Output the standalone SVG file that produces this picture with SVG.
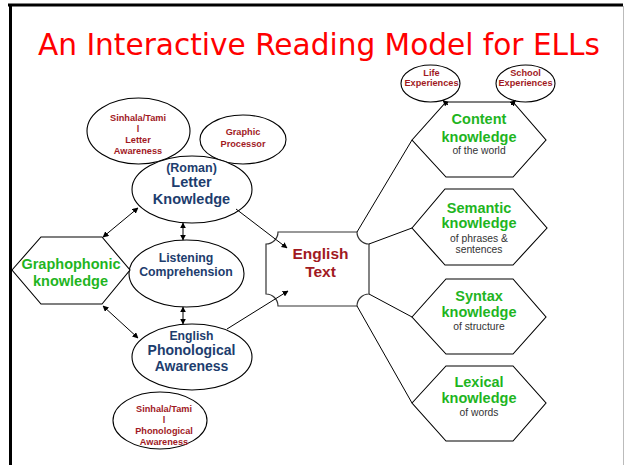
<svg xmlns="http://www.w3.org/2000/svg" width="626" height="465" viewBox="0 0 626 465">
<style>
.sh{fill:#fff;stroke:#000;stroke-width:1.1}
.ln{fill:none;stroke:#000;stroke-width:1}
.t{font-family:"Liberation Sans",Arial,sans-serif;font-weight:bold;text-anchor:middle}
.dr{fill:#a11a1f;font-size:9.2px}
.bl{fill:#1d3d6e}
.gr{fill:#1fb51f;font-size:14.5px}
.sm{font-family:"Liberation Sans",Arial,sans-serif;text-anchor:middle;fill:#333;font-size:10.3px}
</style>
<defs>
<marker id="ah" viewBox="0 0 10 10" refX="9" refY="5" markerWidth="6" markerHeight="6" orient="auto-start-reverse" markerUnits="userSpaceOnUse">
<path d="M0,0 L10,5 L0,10 Z" fill="#000"/>
</marker>
</defs>
<rect x="0" y="0" width="626" height="465" fill="#fff"/>
<line x1="8" y1="5" x2="623" y2="5" stroke="#000" stroke-width="3"/>
<line x1="10.5" y1="4" x2="10.5" y2="465" stroke="#000" stroke-width="3"/>
<line x1="623.5" y1="6" x2="623.5" y2="465" stroke="#bbb" stroke-width="1"/>
<text x="38" y="55" font-family="'DejaVu Sans',sans-serif" font-size="30" fill="#ff0000" textLength="562" lengthAdjust="spacingAndGlyphs">An Interactive Reading Model for ELLs</text>

<g id="sinhala-letter">
<ellipse class="sh" cx="138.5" cy="131" rx="51.5" ry="33"/>
<text class="t dr" x="138" y="120.5">Sinhala/Tami</text>
<text class="t dr" x="138" y="131.5">l</text>
<text class="t dr" x="138" y="142.5">Letter</text>
<text class="t dr" x="138" y="154">Awareness</text>
</g>

<g id="graphic-processor">
<ellipse class="sh" cx="243" cy="139.5" rx="43" ry="24.5"/>
<text class="t dr" x="243" y="134.5">Graphic</text>
<text class="t dr" x="243" y="146.5">Processor</text>
</g>

<g id="letter-knowledge">
<ellipse class="sh" cx="192" cy="189.5" rx="60" ry="33.5"/>
<text class="t bl" x="191.5" y="171.5" font-size="12.5">(Roman)</text>
<text class="t bl" x="191.5" y="187" font-size="14.5">Letter</text>
<text class="t bl" x="191.5" y="204" font-size="14.5">Knowledge</text>
</g>

<g id="listening">
<ellipse class="sh" cx="186.5" cy="273.5" rx="57.5" ry="33.5"/>
<text class="t bl" x="186" y="261.5" font-size="12.3">Listening</text>
<text class="t bl" x="186" y="275.5" font-size="12.3">Comprehension</text>
</g>

<g id="english-phonological">
<ellipse class="sh" cx="192" cy="357" rx="60" ry="33"/>
<text class="t bl" x="191.5" y="339.5" font-size="12.2">English</text>
<text class="t bl" x="191.5" y="355" font-size="14">Phonological</text>
<text class="t bl" x="191.5" y="371" font-size="14">Awareness</text>
</g>

<g id="sinhala-phonological">
<ellipse class="sh" cx="160" cy="420.5" rx="47" ry="28.5"/>
<text class="t dr" x="164" y="411.5">Sinhala/Tami</text>
<text class="t dr" x="164" y="422.5">l</text>
<text class="t dr" x="164" y="434">Phonological</text>
<text class="t dr" x="164" y="444.5">Awareness</text>
</g>

<g id="graphophonic">
<polygon class="sh" points="12,270 41,237 102,237 130,270 102,304 41,304"/>
<text class="t gr" x="71" y="269" font-size="14">Graphophonic</text>
<text class="t gr" x="70.5" y="286" font-size="14">knowledge</text>
</g>

<g id="english-text">
<path d="M278,232 H357 A12,12 0 0 0 369,244 V294 A12,12 0 0 0 357,306 H278 A12,12 0 0 0 266,294 V244 A12,12 0 0 0 278,232 Z" fill="#fff" stroke="#333" stroke-width="1.2"/>
<text class="t" x="320.5" y="258.5" font-size="15.5" fill="#a11a1f">English</text>
<text class="t" x="320.5" y="276.5" font-size="15.5" fill="#a11a1f">Text</text>
</g>

<g id="life-experiences">
<ellipse class="sh" cx="430.5" cy="83.5" rx="29.5" ry="18.5"/>
<text class="t dr" x="431.5" y="76" font-size="8.6">Life</text>
<text class="t dr" x="431.5" y="86" font-size="8.6">Experiences</text>
</g>

<g id="school-experiences">
<ellipse class="sh" cx="525.5" cy="83.5" rx="29.5" ry="18.5"/>
<text class="t dr" x="525.5" y="76" font-size="8.6">School</text>
<text class="t dr" x="525.5" y="86" font-size="8.6">Experiences</text>
</g>

<g id="content-knowledge">
<polygon class="sh" points="412,140 446,102 513,102 546,140 513,177 446,177"/>
<text class="t gr" x="479" y="124">Content</text>
<text class="t gr" x="479" y="142">knowledge</text>
<text class="sm" x="479" y="154">of the world</text>
</g>

<g id="semantic-knowledge">
<polygon class="sh" points="412,228 445,189 513,189 547,228 513,265 445,265"/>
<text class="t gr" x="479" y="213">Semantic</text>
<text class="t gr" x="479" y="228">knowledge</text>
<text class="sm" x="479" y="241.5" font-size="10">of phrases &amp;</text>
<text class="sm" x="479" y="252.5" font-size="10">sentences</text>
</g>

<g id="syntax-knowledge">
<polygon class="sh" points="412,317 446,279 513,279 546,317 513,354 446,354"/>
<text class="t gr" x="479" y="301">Syntax</text>
<text class="t gr" x="479" y="317">knowledge</text>
<text class="sm" x="479" y="329.5">of structure</text>
</g>

<g id="lexical-knowledge">
<polygon class="sh" points="412,403 446,366 513,366 546,403 513,441 446,441"/>
<text class="t gr" x="479" y="387">Lexical</text>
<text class="t gr" x="479" y="403">knowledge</text>
<text class="sm" x="479" y="415.5">of words</text>
</g>

<g id="connectors">
<line class="ln" x1="236" y1="209" x2="287" y2="248" marker-end="url(#ah)"/>
<line class="ln" x1="227" y1="329" x2="288" y2="291" marker-end="url(#ah)"/>
<line class="ln" x1="103" y1="237" x2="138" y2="208" marker-start="url(#ah)" marker-end="url(#ah)"/>
<line class="ln" x1="103" y1="306" x2="138" y2="338" marker-start="url(#ah)" marker-end="url(#ah)"/>
<line class="ln" x1="183" y1="223" x2="183" y2="240" marker-start="url(#ah)" marker-end="url(#ah)"/>
<line class="ln" x1="183" y1="307" x2="183" y2="324" marker-start="url(#ah)" marker-end="url(#ah)"/>
<line class="ln" x1="357" y1="232" x2="412" y2="140"/>
<line class="ln" x1="369" y1="244" x2="412" y2="228"/>
<line class="ln" x1="369" y1="294" x2="412" y2="317"/>
<line class="ln" x1="357" y1="306" x2="412" y2="403"/>
<line class="ln" x1="448" y1="105" x2="443" y2="100.5" marker-end="url(#ah)"/>
<line class="ln" x1="511" y1="105" x2="515.5" y2="100.5" marker-end="url(#ah)"/>
</g>
</svg>
